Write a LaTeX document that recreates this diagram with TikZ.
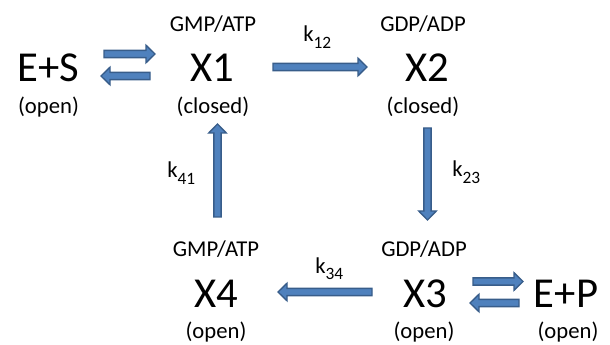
\documentclass[tikz,border=0pt]{standalone}
\usepackage{fontspec}
\setmainfont{Carlito}
\usetikzlibrary{calc}
\definecolor{afill}{HTML}{4F81BD}
\definecolor{aline}{HTML}{385D8A}
\newcommand\kk[1]{k\raisebox{-5pt}{\fontsize{13}{13}\selectfont #1}}
\newcommand\barr[2]{%
 \coordinate (tmph) at ($(#2)!6.75pt!(#1)$);
 \filldraw[barrow] ($(#1)!2.7pt!90:(#2)$) -- ($(tmph)!2.7pt!90:(#2)$) -- ($(tmph)!6.6pt!90:(#2)$) -- (#2) -- ($(tmph)!6.6pt!-90:(#2)$) -- ($(tmph)!2.7pt!-90:(#2)$) -- ($(#1)!2.7pt!-90:(#2)$) -- cycle;}
\begin{document}
\begin{tikzpicture}[x=0.75pt,y=-0.75pt,
  barrow/.style={fill=afill,draw=aline,line width=1pt,line join=miter},
  big/.style={anchor=base,inner sep=0pt,font=\fontsize{32}{32}\selectfont},
  small/.style={anchor=base,inner sep=0pt,font=\fontsize{17}{17}\selectfont}]
\useasboundingbox (0,0) rectangle (610,345);
% states
\node[big] (es) at (48.5,82) {E+S};
\node[small] (eso) at (48.5,113.5) {(open)};
\node[big] (x1) at (212,82) {X1};
\node[small] (x1t) at (213,32) {GMP/ATP};
\node[small] (x1b) at (213,113.5) {(closed)};
\node[big] (x2) at (427,82) {X2};
\node[small] (x2t) at (423,32) {GDP/ADP};
\node[small] (x2b) at (423,113.5) {(closed)};
\node[big] (x3) at (425,307) {X3};
\node[small] (x3t) at (424,257) {GDP/ADP};
\node[small] (x3b) at (424,338.5) {(open)};
\node[big] (x4) at (216,307) {X4};
\node[small] (x4t) at (216,257) {GMP/ATP};
\node[small] (x4b) at (216,338.5) {(open)};
\node[big] (ep) at (566,307) {E+P};
\node[small] (epo) at (568,338.5) {(open)};
% rate labels
\node[small,anchor=base west] (k12) at (303,42) {\kk{12}};
\node[small,anchor=base west] (k23) at (452,177) {\kk{23}};
\node[small,anchor=base west] (k34) at (315,273) {\kk{34}};
\node[small,anchor=base west] (k41) at (167,178) {\kk{41}};
% arrow end points
\coordinate (a1s) at (104,54);   \coordinate (a1e) at (155,54);
\coordinate (a2s) at (150,76);   \coordinate (a2e) at (101,76);
\coordinate (a3s) at (273,67);   \coordinate (a3e) at (367,67);
\coordinate (a4s) at (427.5,128);\coordinate (a4e) at (427.5,220);
\coordinate (a5s) at (372,292);  \coordinate (a5e) at (278,292);
\coordinate (a6s) at (217.5,217);\coordinate (a6e) at (217.5,124);
\coordinate (a7s) at (473,281.5);\coordinate (a7e) at (523,281.5);
\coordinate (a8s) at (519,303);  \coordinate (a8e) at (470,303);
\barr{a1s}{a1e}
\barr{a2s}{a2e}
\barr{a3s}{a3e}
\barr{a4s}{a4e}
\barr{a5s}{a5e}
\barr{a6s}{a6e}
\barr{a7s}{a7e}
\barr{a8s}{a8e}
\end{tikzpicture}
\end{document}
